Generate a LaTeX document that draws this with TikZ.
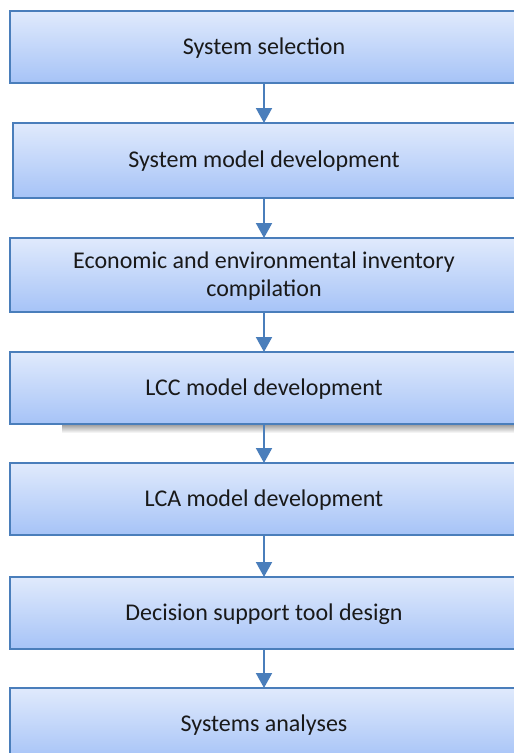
\documentclass[tikz,border=0pt]{standalone}
\usepackage{fontspec}
\setmainfont{Carlito}
\usetikzlibrary{arrows.meta}
\definecolor{bordblue}{HTML}{4A7EBB}
\definecolor{topblue}{HTML}{E0EAFC}
\definecolor{botblue}{HTML}{A6C3F7}
\tikzset{
  stepbox/.style={draw=bordblue, line width=2pt, top color=topblue, bottom color=botblue,
    anchor=north west, inner sep=0pt, align=center, text=black!90, font=\fontsize{24}{28.5}\selectfont},
  steptext/.style={anchor=center, align=center, text=black!90, font=\fontsize{24}{28.5}\selectfont},
  flowarrow/.style={draw=bordblue, line width=2pt, -{Triangle[length=15pt,width=16pt]}, shorten >=-1pt}
}
\begin{document}
\begin{tikzpicture}[x=1pt,y=-1pt]
\useasboundingbox (0,0) rectangle (514,753);
\fill[top color=black!45, bottom color=white] (62,423) rectangle (514,433);
\node[stepbox, minimum width=511pt, minimum height=72pt] (b1) at (9,10) {};
\node[stepbox, minimum width=508pt, minimum height=75pt] (b2) at (12,122) {};
\node[stepbox, minimum width=511pt, minimum height=74pt] (b3) at (9,237) {};
\node[stepbox, minimum width=511pt, minimum height=72pt] (b4) at (9,351) {};
\node[stepbox, minimum width=511pt, minimum height=72pt] (b5) at (9,462) {};
\node[stepbox, minimum width=511pt, minimum height=72pt] (b6) at (9,576) {};
\node[stepbox, minimum width=511pt, minimum height=72pt] (b7) at (9,687) {};
\node[steptext] (t1) at (264,48) {System selection};
\node[steptext] (t2) at (264,161) {System model development};
\node[steptext] (t3) at (264,276) {Economic and environmental inventory\\compilation};
\node[steptext] (t4) at (264,389) {LCC model development};
\node[steptext] (t5) at (264,500) {LCA model development};
\node[steptext] (t6) at (264,614) {Decision support tool design};
\node[steptext] (t7) at (264,725) {Systems analyses};
\draw[flowarrow] (b1.south -| 264,0) -- (b2.north -| 264,0);
\draw[flowarrow] (b2.south -| 264,0) -- (b3.north -| 264,0);
\draw[flowarrow] (b3.south -| 264,0) -- (b4.north -| 264,0);
\draw[flowarrow] (b4.south -| 264,0) -- (b5.north -| 264,0);
\draw[flowarrow] (b5.south -| 264,0) -- (b6.north -| 264,0);
\draw[flowarrow] (b6.south -| 264,0) -- (b7.north -| 264,0);
\end{tikzpicture}
\end{document}
